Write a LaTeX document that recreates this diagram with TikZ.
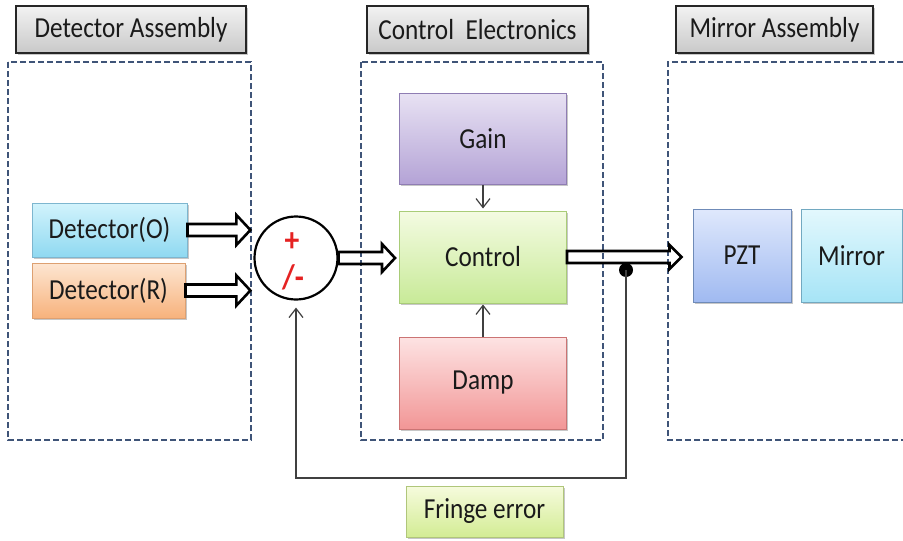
\documentclass[tikz,border=0pt]{standalone}
\usepackage{fontspec}
\setmainfont[FakeStretch=0.87]{Carlito}
\usetikzlibrary{arrows.meta,calc,shadows}

\definecolor{slate}{HTML}{3F5478}
\definecolor{ink}{HTML}{1A1A1A}
\definecolor{signred}{HTML}{E52222}
\definecolor{hdrTop}{HTML}{F2F2F2}
\definecolor{hdrBot}{HTML}{C9C9C9}
\definecolor{skyTop}{HTML}{D2F3FC}\definecolor{skyBot}{HTML}{8FD9F1}\definecolor{skyLine}{HTML}{7DB6CF}
\definecolor{peachTop}{HTML}{FDE6D2}\definecolor{peachBot}{HTML}{F7B27C}\definecolor{peachLine}{HTML}{DDA071}
\definecolor{lilacTop}{HTML}{E8E2F3}\definecolor{lilacBot}{HTML}{B4A3D6}\definecolor{lilacLine}{HTML}{8F7DB3}
\definecolor{limeTop}{HTML}{F4FBE2}\definecolor{limeBot}{HTML}{C8EA98}\definecolor{limeLine}{HTML}{A9CC78}
\definecolor{roseTop}{HTML}{FDE3E3}\definecolor{roseBot}{HTML}{F29696}\definecolor{roseLine}{HTML}{CB7474}
\definecolor{blueTop}{HTML}{DFE8FC}\definecolor{blueBot}{HTML}{A0BAF1}\definecolor{blueLine}{HTML}{6F8BB8}
\definecolor{aquaTop}{HTML}{E3F8FD}\definecolor{aquaBot}{HTML}{A6E4F6}\definecolor{aquaLine}{HTML}{72A9C1}
\definecolor{paleTop}{HTML}{F6FBDD}\definecolor{paleBot}{HTML}{D3EC94}\definecolor{paleLine}{HTML}{B0C67A}

\tikzset{
  lbl/.style={font=\fontsize{29}{32}\selectfont, text=ink},
  softshadow/.style={drop shadow={shadow xshift=1.5pt, shadow yshift=-1.5pt, opacity=0.22, fill=black}},
  header/.style={lbl, rectangle, draw=black!85, line width=1.3pt,
    top color=hdrTop, bottom color=hdrBot, minimum height=47pt,
    inner sep=0pt, softshadow},
  block/.style={lbl, rectangle, line width=1pt, inner sep=0pt, softshadow},
  tint/.style={top color=#1Top, bottom color=#1Bot, draw=#1Line},
  groupbox/.style={draw=slate, line width=1.8pt, dash pattern=on 6pt off 3pt},
  hollow/.style={draw=black, line width=2.6pt, line join=miter},
  wire/.style={draw=black!75, line width=1.2pt},
  vtip/.style={-{Straight Barb[length=9pt, width=14pt, line width=1.2pt]}},
  sign/.style={text=signred, font=\fontsize{34}{36}\selectfont\bfseries},
}

% block arrow drawn horizontally at the height of its source point
\newcommand\blockarrow[4]{%
  \draw[hollow] let \p1=(#1), \p2=(#2) in
    (\x1,\y1+6pt) -- (\x2-#3,\y1+6pt) -- (\x2-#3,\y1+#4) -- (\x2,\y1)
    -- (\x2-#3,\y1-#4) -- (\x2-#3,\y1-6pt) -- (\x1,\y1-6pt) -- cycle;}

\begin{document}
\begin{tikzpicture}[x=1pt, y=-1pt]
  \useasboundingbox (0,0) rectangle (903,541);

  % dashed group frames
  \draw[groupbox] (8,62) rectangle (251,440);
  \draw[groupbox] (361,62) rectangle (603,440);
  \draw[groupbox] (903,62) -- (668,62) -- (668,440) -- (903,440);

  % group headers
  \node[header, minimum width=230pt] (hdrD) at (131,29.5) {Detector Assembly};
  \node[header, minimum width=221pt] (hdrC) at (477.5,29.5) {Control\hspace{0.2em} Electronics};
  \node[header, minimum width=197pt] (hdrM) at (774.5,29.5) {Mirror Assembly};

  % detector blocks
  \node[block, tint=sky, minimum width=155pt, minimum height=54pt] (detO) at (109.5,230) {Detector(O)};
  \node[block, tint=peach, minimum width=153pt, minimum height=55pt] (detR) at (108.5,290.5) {Detector(R)};

  % summing junction
  \node[circle, draw=black, line width=2.2pt, minimum size=83pt, inner sep=0pt] (sum) at (296,258) {};
  \node[sign] (plus) at (292,242) {+};
  \node[sign] (minus) at (293,277) {/-};

  % control electronics
  \node[block, tint=lilac, minimum width=167pt, minimum height=91pt] (gain) at (483,138.5) {Gain};
  \node[block, tint=lime, minimum width=167pt, minimum height=92pt] (ctrl) at (483,257) {Control};
  \node[block, tint=rose, minimum width=167pt, minimum height=92pt] (damp) at (483,383) {Damp};

  % mirror assembly
  \node[block, tint=blue, minimum width=98pt, minimum height=93pt] (pzt) at (742,255.5) {PZT};
  \node[block, tint=aqua, minimum width=101pt, minimum height=93pt] (mirror) at (851.5,255.5) {Mirror};

  % fringe error label
  \node[block, tint=pale, minimum width=157pt, minimum height=51pt] (fringe) at (484.5,511.5) {Fringe error};

  % signal path
  \blockarrow{detO.east}{$(sum.west)+(-3,0)$}{14pt}{15pt}
  \blockarrow{detR.east}{$(sum.west)+(-3,0)$}{14pt}{15pt}
  \blockarrow{sum.east}{$(ctrl.west)+(-4,0)$}{13pt}{14pt}
  \blockarrow{ctrl.east}{$(pzt.west)+(-11,0)$}{12pt}{12pt}

  \draw[wire, vtip, shorten >=2pt] (gain) -- (ctrl);
  \draw[wire, vtip, shorten >=1pt] (damp) -- (ctrl);

  % feedback loop
  \node[circle, fill=black, minimum size=14pt, inner sep=0pt] (tap) at (626,270) {};
  \coordinate (fbR) at (626,478);
  \coordinate (fbL) at (296,478);
  \draw[wire, vtip, shorten >=7pt] (tap.center) -- (fbR) -- (fbL) -- (sum.south);
\end{tikzpicture}
\end{document}
